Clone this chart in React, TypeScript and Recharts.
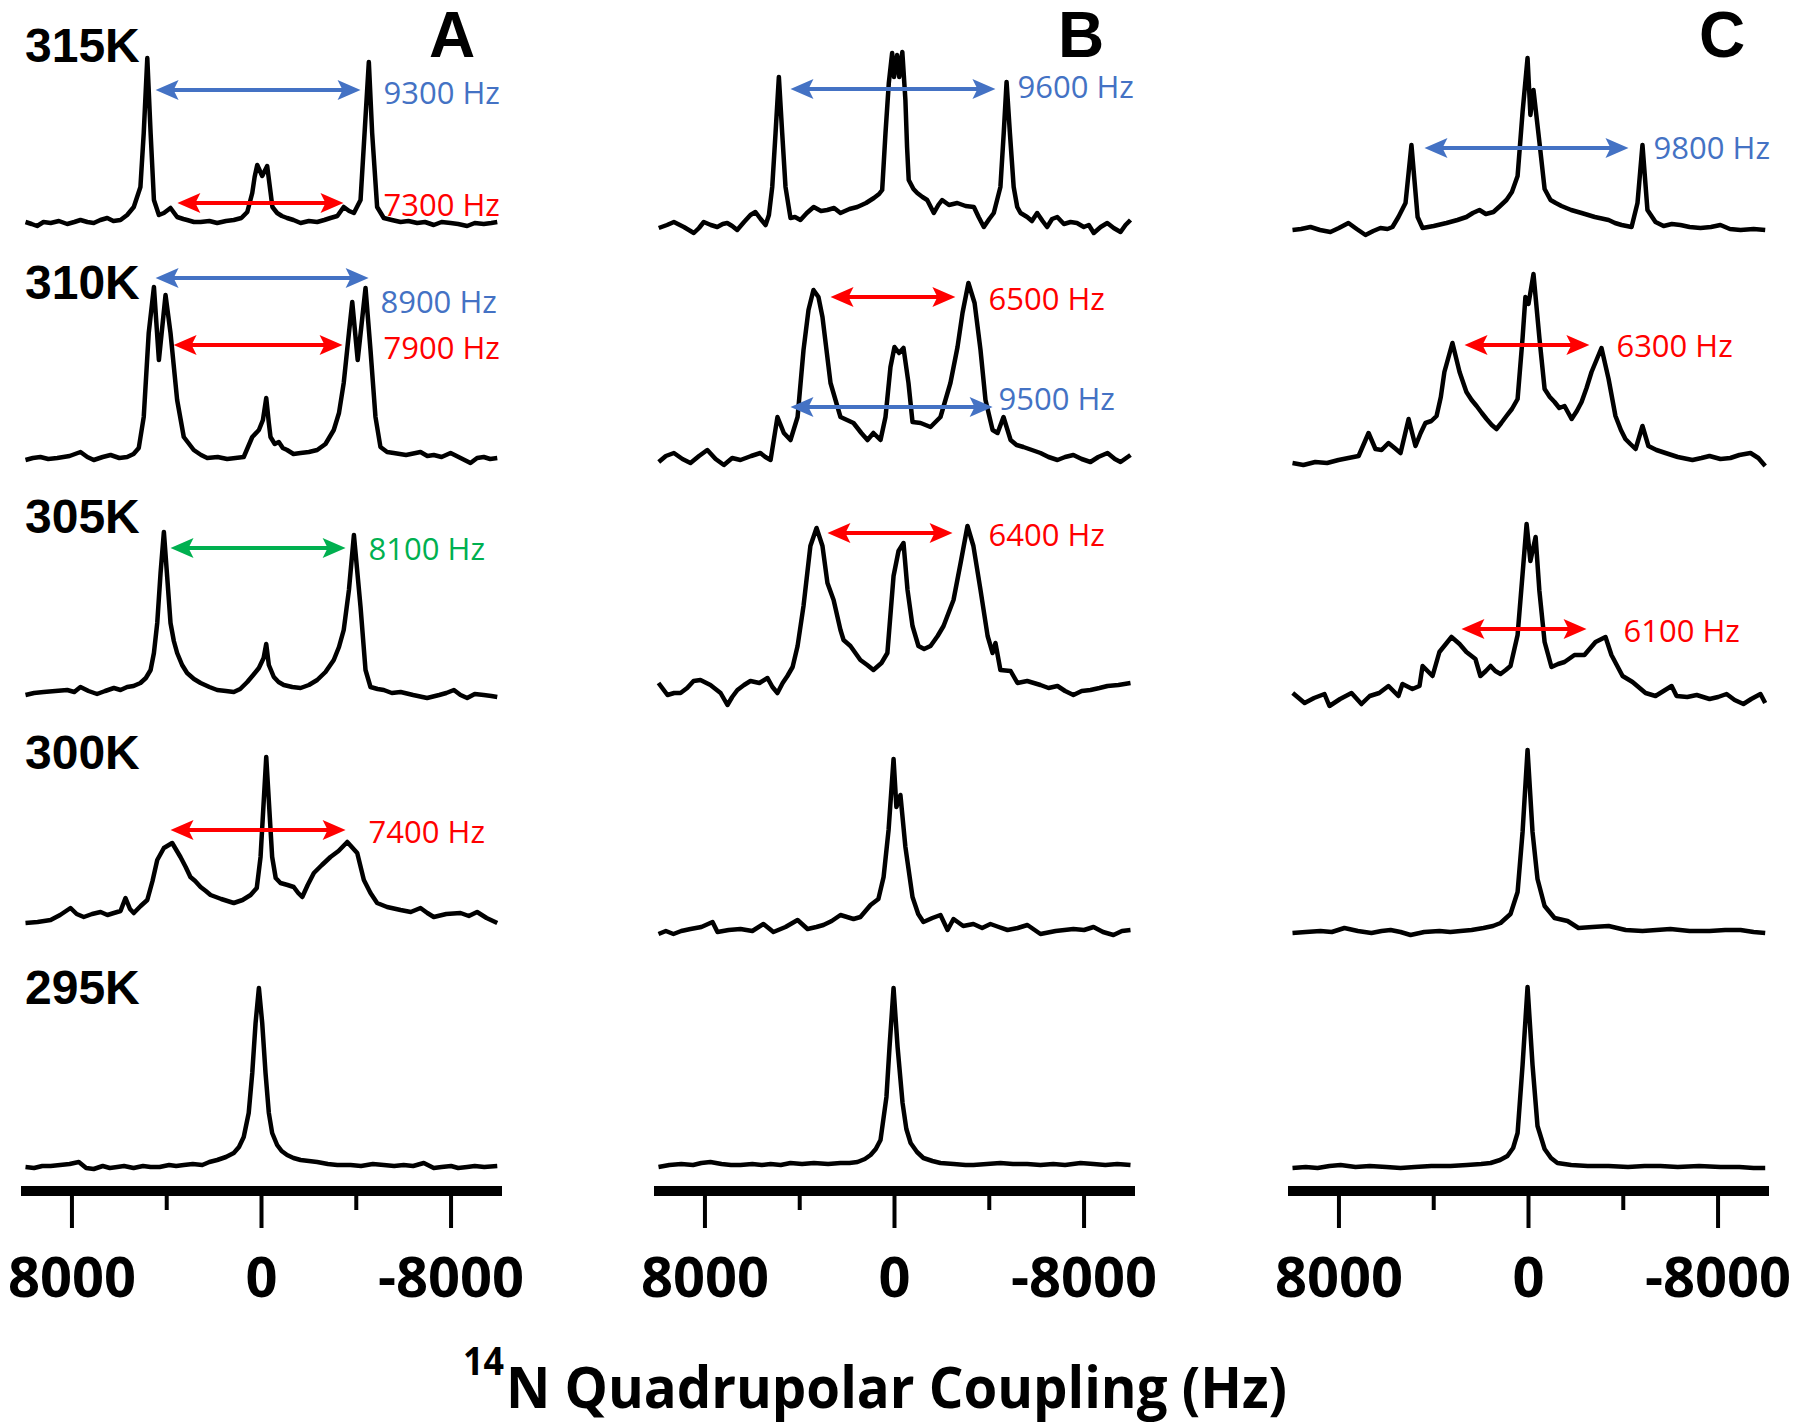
import React from 'react';
import { LineChart, Line, XAxis, YAxis, ReferenceLine, ReferenceDot } from 'recharts';

const TEMPS = ['315K', '310K', '305K', '300K', '295K'];
const PANELS = ['A', 'B', 'C'];
const TICKS = [8000, 4000, 0, -4000, -8000];
const TICK_LABELS: Record<string, string> = { '8000': '8000', '0': '0', '-8000': '-8000' };

const BLUE = '#4472C4';
const RED = '#FF0000';
const GREEN = '#00B050';

// spectra as [Hz, intensity above the trace baseline]
const A_315 = [[9960,0],[9700,-2],[9470,-4],[9200,0],[8900,-1],[8550,1],[8200,-2],[7900,0],[7640,2],[7350,0],[7080,-1],[6800,2],[6510,4],[6250,1],[5950,2],[5670,7],[5390,15],[5110,35],[4970,89],[4820,164],[4680,89],[4540,22],[4330,7],[4120,9],[3840,14],[3560,5],[3300,3],[3140,2],[2850,0],[2570,0],[2200,1],[1870,-1],[1500,1],[1170,2],[850,4],[600,10],[390,29],[290,45],[180,57],[-30,46],[-240,56],[-380,30],[-460,15],[-660,9],[-860,6],[-1080,4],[-1350,2],[-1650,-1],[-2000,1],[-2350,0],[-2650,2],[-2910,4],[-3200,6],[-3470,15],[-3700,11],[-3900,9],[-4180,22],[-4350,89],[-4530,160],[-4670,89],[-4880,15],[-5160,4],[-5500,2],[-5870,0],[-6200,1],[-6570,-1],[-6900,0],[-7270,-3],[-7600,0],[-7980,-1],[-8300,-2],[-8680,-4],[-9000,-1],[-9380,-2],[-9700,-1],[-9950,0]];
const A_310 = [[9960,-2],[9650,0],[9330,1],[9000,-1],[8620,0],[8100,2],[7640,6],[7350,1],[7080,-2],[6700,1],[6370,3],[6000,0],[5670,1],[5400,4],[5180,10],[4970,41],[4760,125],[4540,171],[4330,98],[4050,163],[3840,125],[3560,58],[3280,21],[2860,8],[2550,3],[2290,0],[1850,1],[1450,-1],[1100,0],[750,1],[390,21],[110,28],[-60,38],[-200,60],[-310,35],[-380,21],[-560,14],[-730,16],[-900,10],[-1080,8],[-1350,4],[-1650,5],[-2000,6],[-2350,8],[-2700,14],[-3050,28],[-3270,45],[-3470,75],[-3690,125],[-3830,156],[-4060,98],[-4390,170],[-4600,108],[-4810,41],[-5020,11],[-5300,6],[-5580,5],[-6100,3],[-6710,6],[-7000,2],[-7270,3],[-7600,1],[-7980,5],[-8400,0],[-8820,-5],[-9100,0],[-9380,1],[-9650,-1],[-9950,0]];
const A_305 = [[9960,-2],[9600,0],[9190,1],[8700,2],[8200,3],[7900,1],[7640,6],[7300,2],[6940,-1],[6600,2],[6230,5],[5950,3],[5670,6],[5400,7],[5110,10],[4880,15],[4680,23],[4540,40],[4400,70],[4260,120],[4120,161],[3980,116],[3840,70],[3700,52],[3560,40],[3350,28],[3140,20],[2850,14],[2570,10],[2200,6],[1870,3],[1500,2],[1170,1],[900,4],[600,11],[350,18],[110,25],[-90,35],[-200,49],[-310,28],[-520,16],[-720,11],[-940,8],[-1300,6],[-1650,5],[-2000,8],[-2350,13],[-2700,21],[-3050,33],[-3270,46],[-3470,63],[-3690,103],[-3900,158],[-4180,86],[-4390,23],[-4600,6],[-4900,4],[-5160,3],[-5500,0],[-5870,1],[-6400,-2],[-6990,-5],[-7500,-2],[-7800,0],[-8120,3],[-8400,-2],[-8680,-5],[-9000,-1],[-9380,-2],[-9700,-3],[-9950,-4]];
const A_300 = [[9960,0],[9450,1],[8900,3],[8500,8],[8060,15],[7800,9],[7500,6],[7150,9],[6790,11],[6500,8],[6230,10],[5950,12],[5740,25],[5550,14],[5390,10],[5100,17],[4820,23],[4600,42],[4400,63],[4120,75],[3770,80],[3420,66],[3200,56],[3000,46],[2800,42],[2570,36],[2350,32],[2150,28],[1700,24],[1170,20],[800,23],[460,28],[200,35],[40,66],[-200,166],[-450,66],[-600,45],[-800,40],[-1100,38],[-1360,36],[-1550,30],[-1720,26],[-1950,38],[-2210,50],[-2550,58],[-2910,66],[-3250,72],[-3620,81],[-4040,70],[-4320,43],[-4600,30],[-4880,20],[-5300,16],[-5870,13],[-6300,11],[-6710,15],[-7000,10],[-7270,6],[-7800,9],[-8400,10],[-8750,7],[-9100,11],[-9500,5],[-9950,0]];
const A_295 = [[9960,0],[9600,-1],[9250,1],[8900,1],[8500,2],[8100,3],[7710,5],[7400,-1],[7080,-2],[6700,1],[6400,-1],[6090,0],[5800,1],[5400,-1],[5000,1],[4680,0],[4300,0],[3900,2],[3600,1],[3280,2],[2900,3],[2500,2],[2200,5],[1870,7],[1500,10],[1170,14],[950,20],[750,30],[540,54],[390,94],[250,144],[110,179],[-30,144],[-170,94],[-310,54],[-450,34],[-660,22],[-850,16],[-1080,12],[-1350,9],[-1650,7],[-2000,6],[-2350,5],[-2800,3],[-3200,2],[-3760,2],[-4200,1],[-4700,3],[-5160,2],[-5600,1],[-6000,2],[-6400,1],[-6850,4],[-7270,-1],[-7600,0],[-8000,1],[-8300,-1],[-8680,0],[-9000,1],[-9400,0],[-9950,1]];

const B_315 = [[9950,-1],[9600,2],[9310,5],[8890,0],[8470,-6],[8250,-1],[8050,5],[7750,2],[7480,0],[7250,3],[7060,4],[6850,1],[6640,-3],[6350,5],[6080,12],[5870,15],[5650,8],[5440,2],[5300,12],[5160,40],[5020,94],[4880,150],[4740,94],[4600,40],[4390,9],[4200,10],[3970,7],[3700,14],[3410,20],[3100,16],[2840,17],[2550,19],[2280,14],[1900,18],[1570,20],[1200,24],[870,29],[650,33],[520,37],[380,94],[240,144],[100,174],[20,150],[-110,172],[-200,150],[-330,175],[-460,127],[-530,80],[-600,47],[-800,38],[-960,34],[-1180,30],[-1380,27],[-1660,14],[-1850,22],[-2010,27],[-2300,22],[-2650,24],[-3000,21],[-3350,20],[-3550,10],[-3770,0],[-4000,8],[-4190,14],[-4470,40],[-4610,94],[-4730,145],[-4870,94],[-5030,40],[-5180,20],[-5320,14],[-5600,10],[-5800,6],[-6020,14],[-6250,6],[-6440,0],[-6650,8],[-6870,10],[-7150,3],[-7430,5],[-7700,4],[-7990,0],[-8200,2],[-8410,-6],[-8700,0],[-8980,4],[-9250,-1],[-9540,-5],[-9750,2],[-9960,7]];
const B_310 = [[9950,-2],[9650,4],[9310,7],[8950,1],[8610,-3],[8250,4],[7900,10],[7550,1],[7200,-5],[6850,2],[6500,0],[6050,4],[5660,7],[5450,3],[5230,0],[4940,43],[4670,27],[4390,20],[4090,43],[3840,110],[3630,150],[3420,170],[3210,163],[3040,143],[2700,77],[2280,43],[1730,37],[1400,27],[1140,20],[890,27],[590,20],[380,43],[170,93],[0,113],[-190,107],[-380,112],[-590,77],[-760,38],[-1100,37],[-1520,33],[-1940,43],[-2360,77],[-2660,113],[-2870,147],[-3120,177],[-3380,157],[-3630,110],[-3840,60],[-4140,30],[-4350,27],[-4600,43],[-4900,20],[-5150,15],[-5440,13],[-5800,10],[-6160,7],[-6500,3],[-6880,0],[-7200,3],[-7550,5],[-7900,1],[-8270,-2],[-8600,3],[-8990,7],[-9300,1],[-9540,-2],[-9960,5]];
const B_305 = [[9960,10],[9580,-2],[9300,0],[9030,0],[8750,5],[8480,12],[8190,13],[7770,8],[7340,0],[7050,-12],[6850,-4],[6630,3],[6350,8],[6080,12],[5700,10],[5360,15],[5150,6],[4940,0],[4720,10],[4520,17],[4300,26],[4090,47],[3840,87],[3550,147],[3290,165],[3040,147],[2830,110],[2570,93],[2280,63],[2150,53],[1860,47],[1440,33],[1150,28],[890,23],[550,30],[300,40],[40,117],[-170,142],[-380,150],[-550,103],[-760,67],[-1010,47],[-1250,44],[-1520,47],[-1820,57],[-2070,67],[-2490,93],[-2790,130],[-3080,167],[-3330,147],[-3630,103],[-3930,57],[-4140,40],[-4260,50],[-4470,23],[-4900,22],[-5190,10],[-5600,12],[-6160,8],[-6500,5],[-6880,7],[-7200,2],[-7550,-2],[-7900,2],[-8270,3],[-8650,5],[-8990,7],[-9450,8],[-9960,10]];
const B_300 = [[9960,-2],[9650,1],[9330,-2],[9000,1],[8610,3],[8150,5],[7680,10],[7470,0],[7000,2],[6500,3],[6000,1],[5530,8],[5110,0],[4600,5],[4090,12],[3670,3],[3300,5],[3000,7],[2650,11],[2280,17],[1730,13],[1440,15],[1010,27],[680,33],[460,55],[250,102],[40,173],[-80,125],[-250,137],[-460,85],[-760,35],[-1000,18],[-1220,10],[-1600,14],[-1940,17],[-2240,2],[-2490,13],[-2900,6],[-3330,8],[-3700,4],[-4050,8],[-4400,5],[-4770,2],[-5200,4],[-5610,7],[-6160,-2],[-6800,1],[-7550,3],[-8000,2],[-8400,5],[-8800,0],[-9240,-3],[-9600,1],[-9960,2]];
const B_295 = [[9960,-2],[9500,0],[9000,1],[8500,0],[8150,2],[7770,3],[7300,1],[6900,0],[6500,0],[6000,1],[5600,0],[5230,1],[4800,0],[4390,2],[3900,1],[3400,2],[2800,1],[2280,2],[1900,2],[1560,3],[1250,6],[1010,10],[790,16],[590,25],[340,68],[210,118],[40,177],[-130,118],[-340,62],[-500,36],[-680,22],[-950,13],[-1220,7],[-1600,4],[-1940,2],[-2500,1],[-3000,0],[-3330,0],[-3900,1],[-4470,2],[-5000,1],[-5600,1],[-6160,0],[-6700,1],[-7200,0],[-7850,2],[-8400,1],[-8900,0],[-9400,1],[-9960,0]];

const C_315 = [[9960,0],[9600,1],[9200,3],[8800,0],[8360,-2],[8000,2],[7600,7],[7250,1],[6880,-5],[6550,-1],[6250,2],[5950,1],[5740,3],[5490,13],[5190,27],[4940,85],[4680,13],[4470,2],[4000,4],[3460,7],[3000,10],[2620,13],[2350,17],[2070,20],[1800,16],[1480,18],[1200,24],[930,30],[700,38],[460,54],[250,118],[40,172],[-80,115],[-210,140],[-460,88],[-680,41],[-930,30],[-1150,27],[-1390,24],[-1800,20],[-2240,17],[-2800,13],[-3380,10],[-3650,7],[-3930,5],[-4350,3],[-4600,27],[-4810,85],[-5020,20],[-5360,8],[-5700,4],[-6050,6],[-6410,5],[-6800,3],[-7260,2],[-7700,3],[-8100,5],[-8500,1],[-8950,0],[-9500,1],[-9990,0]];
const C_310 = [[9960,0],[9500,-2],[9000,1],[8500,0],[8020,3],[7600,5],[7170,7],[6750,30],[6460,14],[6200,13],[5910,20],[5650,15],[5400,10],[5060,44],[4770,17],[4550,30],[4350,40],[4100,42],[3880,47],[3700,66],[3550,91],[3210,120],[2910,91],[2620,71],[2400,63],[2190,57],[1970,50],[1770,44],[1550,38],[1350,34],[1150,40],[930,47],[700,54],[460,64],[250,125],[130,166],[0,159],[-210,189],[-460,125],[-680,74],[-900,66],[-1100,61],[-1300,55],[-1520,57],[-1820,44],[-2040,52],[-2240,61],[-2450,75],[-2660,91],[-3080,115],[-3380,84],[-3670,47],[-3900,33],[-4090,24],[-4300,19],[-4520,14],[-4810,37],[-5060,17],[-5400,13],[-5780,10],[-6300,6],[-6920,3],[-7300,5],[-7640,7],[-8100,4],[-8520,5],[-8900,8],[-9370,10],[-9700,5],[-9990,-3]];
const C_305 = [[9950,8],[9700,3],[9450,-2],[9050,3],[8610,7],[8400,-5],[7950,2],[7470,8],[7050,-3],[6700,5],[6300,8],[5910,15],[5490,5],[5320,17],[4900,12],[4600,15],[4470,35],[4050,25],[3760,49],[3250,64],[2910,57],[2620,49],[2240,42],[2030,25],[1800,30],[1600,35],[1400,30],[1180,27],[960,31],[760,35],[460,66],[250,127],[80,177],[-80,140],[-300,164],[-460,110],[-680,59],[-970,34],[-1250,37],[-1520,39],[-1940,46],[-2360,46],[-2830,59],[-3250,64],[-3500,46],[-3970,25],[-4390,19],[-4940,8],[-5360,5],[-6040,15],[-6250,5],[-6700,4],[-7100,6],[-7640,2],[-8000,4],[-8360,7],[-8700,1],[-9070,-3],[-9400,2],[-9790,7],[-9990,-2]];
const C_300 = [[9960,0],[9400,1],[8780,2],[8300,1],[7770,5],[7200,2],[6630,0],[6200,2],[5820,3],[5400,1],[4980,-2],[4400,1],[3760,2],[3300,1],[2870,2],[2400,3],[1900,5],[1500,7],[1180,10],[760,19],[460,41],[250,101],[40,183],[-170,101],[-380,54],[-680,27],[-1100,15],[-1650,12],[-2110,5],[-2700,6],[-3380,7],[-4100,3],[-4810,2],[-5400,3],[-5990,4],[-6800,2],[-7640,2],[-8300,3],[-8950,3],[-9500,1],[-9990,0]];
const C_295 = [[9960,0],[9400,1],[8900,0],[8400,2],[7930,3],[7300,1],[6700,2],[6000,1],[5400,0],[4800,1],[4100,2],[3290,2],[2600,3],[2000,4],[1600,5],[1200,8],[890,12],[650,20],[460,35],[250,103],[40,181],[-170,103],[-380,42],[-680,19],[-950,10],[-1220,5],[-1800,3],[-2500,2],[-3380,2],[-4200,1],[-4900,2],[-5570,2],[-6300,1],[-7200,2],[-8100,1],[-8900,1],[-9500,0],[-9990,0]];

// coupling arrows: row, from Hz, to Hz, height above baseline
const ARROWS_A = [
  { row: 0, from: 4470, to: -4180, level: 132, color: BLUE },
  { row: 0, from: 3550, to: -3460, level: 19, color: RED },
  { row: 1, from: 4470, to: -4520, level: 180, color: BLUE },
  { row: 1, from: 3710, to: -3420, level: 113, color: RED },
  { row: 2, from: 3840, to: -3550, level: 145, color: GREEN },
  { row: 3, from: 3840, to: -3550, level: 93, color: RED },
];
const ARROWS_B = [
  { row: 0, from: 4390, to: -4260, level: 138, color: BLUE },
  { row: 1, from: 2700, to: -2570, level: 163, color: RED },
  { row: 1, from: 4390, to: -4140, level: 53, color: BLUE },
  { row: 2, from: 2830, to: -2450, level: 160, color: RED },
];
const ARROWS_C = [
  { row: 0, from: 4390, to: -4220, level: 82, color: BLUE },
  { row: 1, from: 2700, to: -2570, level: 118, color: RED },
  { row: 2, from: 2830, to: -2450, level: 72, color: RED },
];

const LABELS_A = [
  { row: 0, text: '9300 Hz', hz: -5150, level: 130, color: BLUE },
  { row: 0, text: '7300 Hz', hz: -5150, level: 18, color: RED },
  { row: 1, text: '8900 Hz', hz: -5020, level: 157, color: BLUE },
  { row: 1, text: '7900 Hz', hz: -5150, level: 111, color: RED },
  { row: 2, text: '8100 Hz', hz: -4520, level: 145, color: GREEN },
  { row: 3, text: '7400 Hz', hz: -4520, level: 92, color: RED },
];
const LABELS_B = [
  { row: 0, text: '9600 Hz', hz: -5190, level: 141, color: BLUE },
  { row: 1, text: '6500 Hz', hz: -3970, level: 162, color: RED },
  { row: 1, text: '9500 Hz', hz: -4390, level: 62, color: BLUE },
  { row: 2, text: '6400 Hz', hz: -3970, level: 159, color: RED },
];
const LABELS_C = [
  { row: 0, text: '9800 Hz', hz: -5280, level: 83, color: BLUE },
  { row: 1, text: '6300 Hz', hz: -3710, level: 118, color: RED },
  { row: 2, text: '6100 Hz', hz: -4010, level: 71, color: RED },
];

// layout
const AXIS_Y = 1191;
const CHART_H = 1340;
const PLOT_W = 481;
const PAD_L = 40;
const PAD_R = 48;
const ROW_LABEL_Y = [62, 299, 533, 769, 1004];

const COLUMNS = [
  { key: 'A', left: 21, letterX: 452, spectra: [A_315, A_310, A_305, A_300, A_295], base: [222, 458, 693, 923, 1167], arrows: ARROWS_A, labels: LABELS_A },
  { key: 'B', left: 654, letterX: 1081, spectra: [B_315, B_310, B_305, B_300, B_295], base: [227, 460, 693, 932, 1165], arrows: ARROWS_B, labels: LABELS_B },
  { key: 'C', left: 1288, letterX: 1722, spectra: [C_315, C_310, C_305, C_300, C_295], base: [230, 463, 701, 933, 1168], arrows: ARROWS_C, labels: LABELS_C },
];

const AxisTick = (props: any) => {
  const { x, payload } = props;
  const v = payload.value;
  const label = TICK_LABELS[String(v)];
  return (
    <g>
      <line x1={x} x2={x} y1={AXIS_Y + 4} y2={AXIS_Y + (label ? 37 : 19)} stroke="#000" strokeWidth={4} />
      {label && (
        <text x={x} y={1297} textAnchor="middle" fontFamily="Open Sans" fontWeight={700} fontSize={56} fill="#000">
          {label}
        </text>
      )}
    </g>
  );
};

const headShape = (color: string, dir: number) => (p: any) => {
  const { cx, cy } = p;
  const pts = [[cx, cy], [cx + dir * 23, cy - 10], [cx + dir * 18, cy], [cx + dir * 23, cy + 10]];
  return <polygon points={pts.map((q) => q.join(',')).join(' ')} fill={color} />;
};

const textShape = (text: string, color: string) => (p: any) => (
  <text x={p.cx} y={p.cy} dominantBaseline="central" fill={color} fontFamily="Open Sans" fontSize={31}>
    {text}
  </text>
);

const Column = ({ col }: { col: (typeof COLUMNS)[number] }) => {
  const offset = col.base.map((b) => AXIS_Y - b);
  return (
    <div style={{ position: 'absolute', left: col.left - PAD_L, top: 0 }}>
      <LineChart width={PLOT_W + PAD_L + PAD_R} height={CHART_H} margin={{ top: 0, right: PAD_R, bottom: 0, left: PAD_L }}>
        <XAxis
          type="number"
          dataKey="hz"
          domain={[-10150, 10150]}
          reversed
          ticks={TICKS}
          interval={0}
          tick={<AxisTick />}
          tickLine={false}
          tickSize={0}
          axisLine={{ stroke: '#000', strokeWidth: 10 }}
          height={CHART_H - AXIS_Y}
        />
        <YAxis hide type="number" domain={[0, AXIS_Y]} />
        {col.spectra.map((s, i) => (
          <Line
            key={TEMPS[i]}
            data={s.map(([hz, h]) => ({ hz, v: offset[i] + h }))}
            dataKey="v"
            type="linear"
            stroke="#000"
            strokeWidth={4.5}
            strokeLinejoin="round"
            dot={false}
            activeDot={false}
            isAnimationActive={false}
          />
        ))}
        {col.arrows.map((a, i) => (
          <ReferenceLine
            key={`s${i}`}
            segment={[{ x: a.from - 300, y: offset[a.row] + a.level }, { x: a.to + 300, y: offset[a.row] + a.level }]}
            stroke={a.color}
            strokeWidth={4}
          />
        ))}
        {col.arrows.map((a, i) => (
          <ReferenceDot key={`l${i}`} x={a.from} y={offset[a.row] + a.level} r={0} shape={headShape(a.color, 1)} />
        ))}
        {col.arrows.map((a, i) => (
          <ReferenceDot key={`r${i}`} x={a.to} y={offset[a.row] + a.level} r={0} shape={headShape(a.color, -1)} />
        ))}
        {col.labels.map((l, i) => (
          <ReferenceDot key={`t${i}`} x={l.hz} y={offset[l.row] + l.level} r={0} shape={textShape(l.text, l.color)} />
        ))}
      </LineChart>
    </div>
  );
};

export default function App() {
  return (
    <div style={{ position: 'absolute', left: 0, top: 0, width: 1800, height: 1425, background: '#fff', overflow: 'hidden' }}>
      {COLUMNS.map((c) => (
        <Column key={c.key} col={c} />
      ))}
      <svg width={1800} height={1425} style={{ position: 'absolute', left: 0, top: 0, pointerEvents: 'none' }}>
        {TEMPS.map((t, i) => (
          <text key={t} x={25} y={ROW_LABEL_Y[i]} fontFamily="Liberation Sans, Arial" fontWeight={700} fontSize={48}>
            {t}
          </text>
        ))}
        {COLUMNS.map((c, i) => (
          <text key={c.key} x={c.letterX} y={57} textAnchor="middle" fontFamily="Liberation Sans, Arial" fontWeight={700} fontSize={64}>
            {PANELS[i]}
          </text>
        ))}
        <text x={463} y={1375} fontFamily="Open Sans" fontWeight={700} fontSize={40} textLength={41} lengthAdjust="spacingAndGlyphs">
          14
        </text>
        <text x={506} y={1408} fontFamily="Open Sans" fontWeight={700} fontSize={58} textLength={781} lengthAdjust="spacingAndGlyphs">
          N Quadrupolar Coupling (Hz)
        </text>
      </svg>
    </div>
  );
}
